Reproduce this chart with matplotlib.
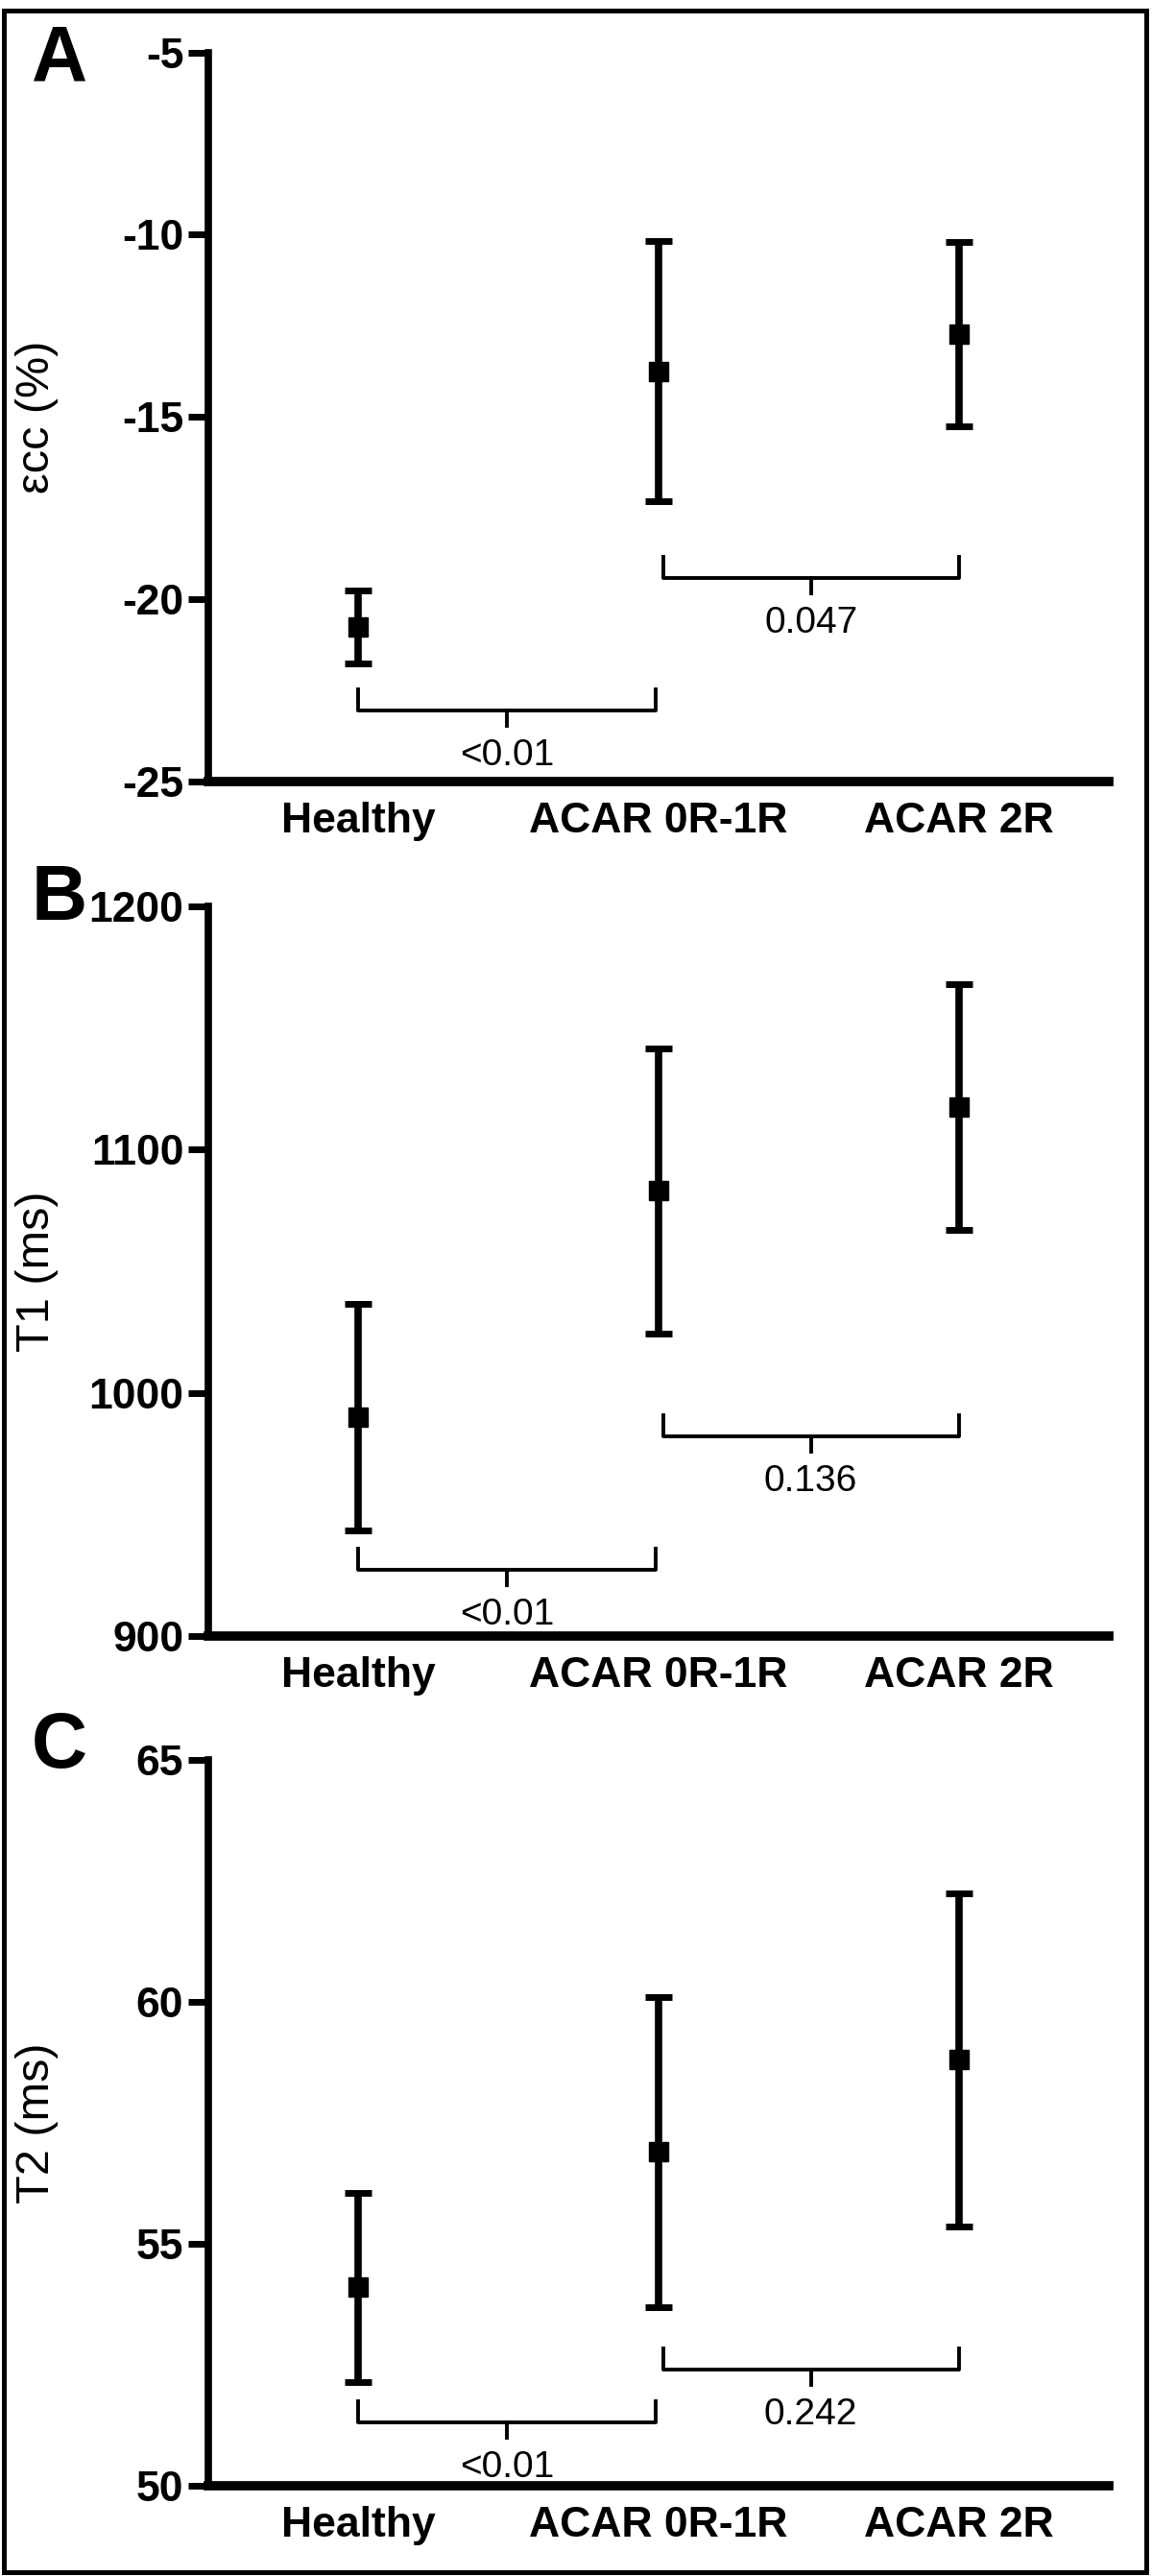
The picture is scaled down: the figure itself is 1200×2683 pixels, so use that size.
import matplotlib
matplotlib.use("Agg")
import matplotlib.pyplot as plt
from matplotlib.patches import Rectangle

plt.rcParams['font.family'] = ['Liberation Sans', 'DejaVu Sans']
plt.rcParams['axes.unicode_minus'] = False

groups = ["Healthy", "ACAR 0R-1R", "ACAR 2R"]

# strain (%), mean and error bar half-width
ecc_mean = [-20.75, -13.75, -12.73]
ecc_err = [1.0, 3.57, 2.53]
ecc_p = ["<0.01", "0.047"]

# T1 (ms)
t1_mean = [990, 1083, 1117.5]
t1_err = [46.5, 58.5, 50.5]
t1_p = ["<0.01", "0.136"]

# T2 (ms)
t2_mean = [54.1, 56.9, 58.8]
t2_err = [1.95, 3.2, 3.45]
t2_p = ["<0.01", "0.242"]

W, H = 1200, 2683
fig = plt.figure(figsize=(W / 100, H / 100), dpi=100)

panels = [
    dict(letter="A", ylabel="εcc (%)", mean=ecc_mean, err=ecc_err, p=ecc_p,
         ylim=(-25, -5), ticks=[-25, -20, -15, -10, -5], brackets=[-23.06, -19.41],
         top=54.5, bottom=814, letter_y=62),
    dict(letter="B", ylabel="T1 (ms)", mean=t1_mean, err=t1_err, p=t1_p,
         ylim=(900, 1200), ticks=[900, 1000, 1100, 1200], brackets=[927.4, 982.1],
         top=944, bottom=1704, letter_y=937),
    dict(letter="C", ylabel="T2 (ms)", mean=t2_mean, err=t2_err, p=t2_p,
         ylim=(50, 65), ticks=[50, 55, 60, 65], brackets=[51.3, 52.4],
         top=1833, bottom=2589, letter_y=1820),
]
bracket_x = [(0.0, 0.99), (1.015, 2.0)]

for pn in panels:
    ax = fig.add_axes([217 / W, 1 - pn["bottom"] / H, 938 / W, (pn["bottom"] - pn["top"]) / H])
    x = list(range(len(groups)))
    ax.errorbar(x, pn["mean"], yerr=pn["err"], fmt="s", color="black", ms=15,
                elinewidth=5.5, capsize=10, capthick=5)
    ax.set_xlim(-0.5, 2.5)
    ax.set_ylim(pn["ylim"])
    ax.set_yticks(pn["ticks"])
    ax.set_xticks(x)
    ax.set_xticklabels(groups, fontweight="bold", fontsize=32)
    ax.tick_params(axis="x", length=0, pad=15)
    ax.tick_params(axis="y", length=15, width=5, labelsize=32, pad=3.5)
    for lab in ax.get_yticklabels():
        lab.set_fontweight("bold")
    ax.spines["top"].set_visible(False)
    ax.spines["right"].set_visible(False)
    ax.spines["left"].set_linewidth(5.5)
    ax.spines["bottom"].set_linewidth(7)

    # one pixel in data units
    u = (pn["ylim"][1] - pn["ylim"][0]) / (pn["bottom"] - pn["top"])
    for (x0, x1), yb, txt in zip(bracket_x, pn["brackets"], pn["p"]):
        ax.plot([x0, x0, x1, x1], [yb + 22 * u, yb, yb, yb + 22 * u], color="black", lw=2.8)
        xm = (x0 + x1) / 2
        ax.plot([xm, xm], [yb, yb - 16 * u], color="black", lw=2.8)
        ax.text(xm, yb - 57 * u, txt, ha="center", va="baseline", fontsize=28)

    ax.text(-0.19, 0.5, pn["ylabel"], transform=ax.transAxes, rotation=90,
            ha="center", va="center", fontsize=35)
    fig.text(62 / W, 1 - pn["letter_y"] / H, pn["letter"], ha="center", va="center",
             fontsize=58, fontweight="bold")

fig.add_artist(Rectangle((4 / W, 1 - 2679 / H), 1190 / W, 2668 / H, transform=fig.transFigure,
                         fill=False, lw=3.6, ec="black"))

fig.savefig("out.png", dpi=100)
